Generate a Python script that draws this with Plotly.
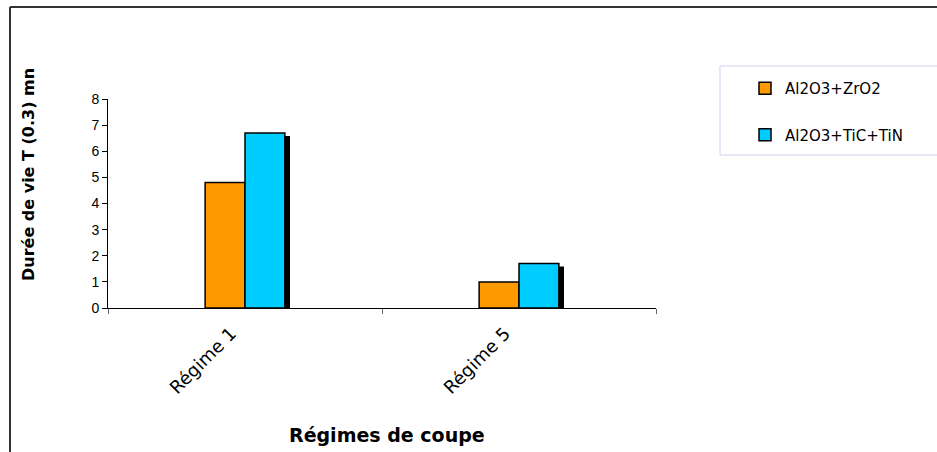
import plotly.graph_objects as go

categories = ["Régime 1", "Régime 5"]
series_names = ["Al2O3+ZrO2", "Al2O3+TiC+TiN"]
zro2_values = [4.8, 1.0]
ticn_values = [6.7, 1.7]
y_ticks = [0, 1, 2, 3, 4, 5, 6, 7, 8]

W, H = 937, 452
ML, MR, MT, MB = 108, 281, 99, 144
plot_w = W - ML - MR
plot_h = H - MT - MB
y_max = 8
px_per_unit = plot_h / y_max

font = "Arial, Liberation Sans, sans-serif"
wide = "DejaVu Sans, sans-serif"

fig = go.Figure()
fig.add_trace(go.Bar(x=categories, y=zro2_values, name=series_names[0],
                     marker=dict(color="#FF9900", line=dict(color="black", width=1.5)),
                     legendgroup="a"))
fig.add_trace(go.Bar(x=categories, y=ticn_values, name=series_names[1],
                     marker=dict(color="#00CCFF", line=dict(color="black", width=1.5)),
                     legendgroup="b"))

shapes = []
# shadow behind right bar of each group
for i, v in enumerate(ticn_values):
    shapes.append(dict(type="rect", xref="x", yref="y", xsizemode="pixel", xanchor=i,
                       x0=4, x1=45, y0=0, y1=v - 3 / px_per_unit,
                       fillcolor="black", line=dict(width=0), layer="below"))

def px_x(p):
    return (p - ML) / plot_w

def px_y(p):
    return (H - MB - p) / plot_h

# outer chart border (top and left visible)
shapes.append(dict(type="line", xref="paper", yref="paper",
                   x0=px_x(10), x1=px_x(940), y0=px_y(7), y1=px_y(7),
                   line=dict(color="#333333", width=2)))
shapes.append(dict(type="line", xref="paper", yref="paper",
                   x0=px_x(10), x1=px_x(10), y0=px_y(7), y1=px_y(455),
                   line=dict(color="#333333", width=2)))
# legend box
shapes.append(dict(type="rect", xref="paper", yref="paper",
                   x0=px_x(720), x1=px_x(945), y0=px_y(66), y1=px_y(155),
                   line=dict(color="#D0D0F0", width=1), fillcolor="rgba(0,0,0,0)"))

annotations = [
    dict(text="<b>Durée de vie T (0.3) mn</b>", textangle=-90, showarrow=False,
         xref="paper", yref="paper", x=px_x(28), y=px_y(175),
         xanchor="center", yanchor="middle", font=dict(size=16, family=wide, color="black")),
    dict(text="<b>Régimes de coupe</b>", showarrow=False,
         xref="paper", yref="paper", x=px_x(387), y=px_y(435),
         xanchor="center", yanchor="middle", font=dict(size=19, family=wide, color="black")),
]

fig.update_layout(
    width=W, height=H,
    margin=dict(l=ML, r=MR, t=MT, b=MB, autoexpand=False),
    paper_bgcolor="white", plot_bgcolor="white",
    barmode="group", bargap=0.709, bargroupgap=0,
    font=dict(family=font, color="black", size=14),
    showlegend=True,
    legend=dict(x=px_x(745), y=px_y(72), xanchor="left", yanchor="top",
                bgcolor="rgba(0,0,0,0)", borderwidth=0,
                font=dict(family=wide, size=15, color="black"),
                tracegroupgap=24, traceorder="grouped"),
    shapes=shapes,
    annotations=annotations,
    xaxis=dict(type="category", range=[-0.5, 1.5], showline=True, linecolor="black",
               linewidth=1, ticks="outside", tickson="boundaries", ticklen=5,
               tickcolor="#666666", tickangle=-45, showgrid=False, zeroline=False,
               tickfont=dict(size=18, family=wide), ticklabelshift=-14,
               ticklabelstandoff=7, automargin=False),
    yaxis=dict(range=[0, y_max], tickvals=y_ticks, showline=True, linecolor="black",
               linewidth=1, ticks="outside", ticklen=5, tickcolor="black",
               showgrid=False, zeroline=False, tickfont=dict(size=14, family=font),
               automargin=False),
)

fig.write_html("out.html", config={"displayModeBar": False},
               post_script="document.body.style.margin='0';")
